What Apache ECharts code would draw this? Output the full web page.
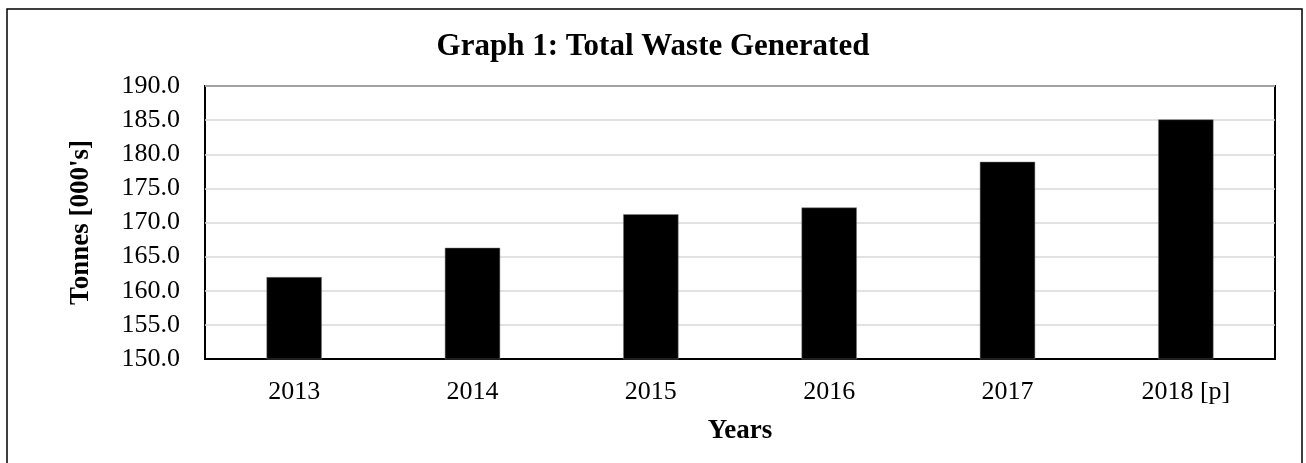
<!DOCTYPE html>
<html>
<head>
<meta charset="utf-8">
<script src="https://cdn.jsdelivr.net/npm/echarts@6/dist/echarts.min.js"></script>
<style>
  html, body { margin: 0; padding: 0; background: #fff; }
  #chart { width: 1306px; height: 463px; }
</style>
</head>
<body>
<div id="chart"></div>
<script>
// values
var years = ['2013', '2014', '2015', '2016', '2017', '2018 [p]'];
var tonnes = [162.0, 166.3, 171.2, 172.2, 178.9, 185.1];

var chart = echarts.init(document.getElementById('chart'));

var font = '"Liberation Serif", "Times New Roman", serif';

var option = {
    animation: false,
    backgroundColor: '#fff',
    title: {
        text: 'Graph 1: Total Waste Generated',
        left: 'center',
        top: 26,
        textStyle: {
            fontFamily: font,
            fontSize: 31,
            fontWeight: 'bold',
            color: '#000'
        }
    },
    graphic: [
        {
            type: 'rect',
            silent: true,
            shape: {x: 7, y: 9, width: 1295, height: 470},
            style: {fill: 'none', stroke: '#000', lineWidth: 1.5}
        }
    ],
    grid: {
        left: 205,
        right: 31,
        top: 86,
        bottom: 104,
        show: true,
        borderColor: '#000',
        borderWidth: 2,
        backgroundColor: 'transparent'
    },
    xAxis: {
        type: 'category',
        data: years,
        name: 'Years',
        nameLocation: 'middle',
        nameGap: 59,
        nameTextStyle: {
            fontFamily: font,
            fontSize: 27,
            fontWeight: 'bold',
            color: '#000'
        },
        axisLine: {show: true, lineStyle: {color: '#000', width: 2}},
        axisTick: {show: false},
        axisLabel: {
            fontFamily: font,
            fontSize: 26,
            color: '#000',
            margin: 20
        }
    },
    yAxis: {
        type: 'value',
        min: 150,
        max: 190,
        interval: 5,
        name: "Tonnes [000's]",
        nameLocation: 'middle',
        nameGap: 110,
        nameTextStyle: {
            fontFamily: font,
            fontSize: 27,
            fontWeight: 'bold',
            color: '#000'
        },
        axisLine: {show: false},
        axisTick: {show: false},
        axisLabel: {
            fontFamily: font,
            fontSize: 26,
            color: '#000',
            margin: 25,
            formatter: function (v) { return v.toFixed(1); }
        },
        splitLine: {lineStyle: {color: '#d9d9d9', width: 1.5}}
    },
    series: [
        {
            name: 'Total Waste',
            type: 'bar',
            data: tonnes,
            barWidth: '31%',
            itemStyle: {color: '#000', borderColor: '#7f7f7f', borderWidth: 0.5}
        }
    ]
};

chart.setOption(option);
</script>
</body>
</html>
